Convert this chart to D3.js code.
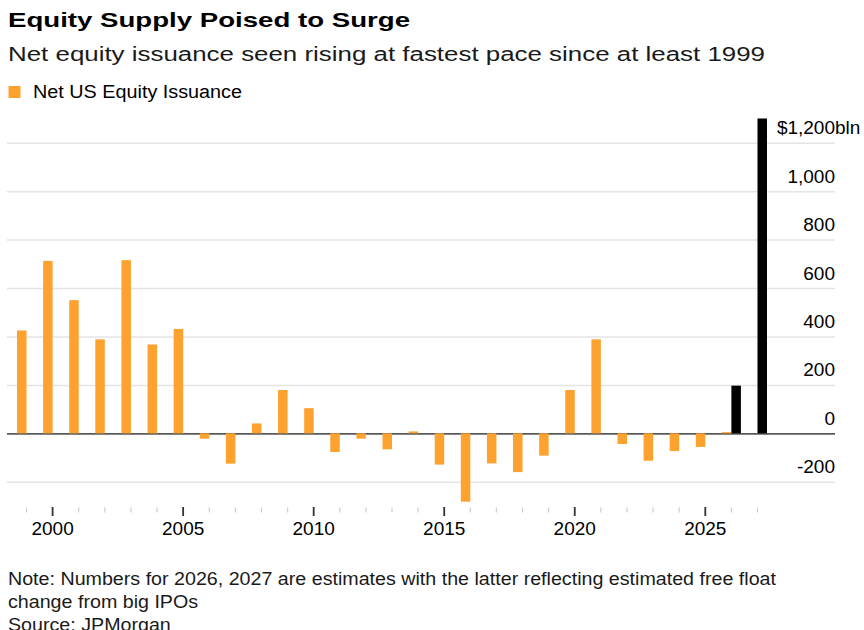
<!DOCTYPE html>
<html>
<head>
<meta charset="utf-8">
<script src="https://cdn.jsdelivr.net/npm/d3@7"></script>
<style>
    body { margin: 0; background: #fff; }
    text { font-family: "Liberation Sans", Arial, Helvetica, sans-serif; fill: #000; }
    .title { font-size: 21px; font-weight: bold; }
    .subtitle { font-size: 20px; fill: #1a1a1a; }
    .legendLabel { font-size: 18px; }
    .tickLabel { font-size: 19px; }
    .note { font-size: 17.5px; fill: #1a1a1a; }
</style>
</head>
<body>
<div id="chart"></div>
<script>

// actual net issuance, $bln (bar for each year ends at the following year's tick)
const actualYears = [1998, 1999, 2000, 2001, 2002, 2003, 2004, 2005, 2006, 2007,
    2008, 2009, 2010, 2011, 2012, 2013, 2014, 2015, 2016, 2017,
    2018, 2019, 2020, 2021, 2022, 2023, 2024, 2025];
const actualValues = [425, 712, 550, 388, 715, 367, 431, -22, -125, 41,
    179, 104, -77, -22, -66, 8, -129, -282, -124, -160,
    -92, 179, 388, -44, -113, -73, -56, 5];

// JPMorgan estimates
const estimateYears = [2026, 2027];
const estimateValues = [197, 1300];

const yTicks = [-200, 0, 200, 400, 600, 800, 1000, 1200];
const xTicks = d3.range(1999, 2028);
const xLabelYears = [2000, 2005, 2010, 2015, 2020, 2025];

const width = 864;
const height = 630;
const margin = {top: 142.7, left: 7, right: 29, bottom: 148};

const svg = d3.select("#chart")
    .append("svg")
    .attr("width", width)
    .attr("height", height);

/*
SCALES
*/
const xScale = d3.scaleLinear()
    .domain([1999, 2027])
    .range([26, 757]);

const yScale = d3.scaleLinear()
    .domain([-200, 1200])
    .range([481.8, 142.7]);

const barWidth = 9.5;

// plain hyphen for negatives, like the reference
const numFormat = d3.formatLocale({decimal: ".", thousands: ",", grouping: [3], currency: ["$", ""], minus: "-"}).format(",");

// the reference type is wider than Liberation Sans, so stretch lines to its widths
function stretch(sel, w) {
    sel.attr("textLength", w).attr("lengthAdjust", "spacingAndGlyphs");
}

/*
HEADER
*/
svg.append("text")
    .attr("class", "title")
    .attr("x", 8)
    .attr("y", 27)
    .text("Equity Supply Poised to Surge")
    .call(stretch, 402);

svg.append("text")
    .attr("class", "subtitle")
    .attr("x", 8)
    .attr("y", 61)
    .text("Net equity issuance seen rising at fastest pace since at least 1999")
    .call(stretch, 757);

svg.append("rect")
    .attr("x", 8.5)
    .attr("y", 86)
    .attr("width", 12)
    .attr("height", 12)
    .attr("fill", "#fda12f");

svg.append("text")
    .attr("class", "legendLabel")
    .attr("x", 33)
    .attr("y", 98)
    .text("Net US Equity Issuance")
    .call(stretch, 209);

/*
GRIDLINES + Y LABELS
*/
const yAxis = svg.append("g")
    .attr("transform", `translate(${width - margin.right},0)`)
    .call(d3.axisLeft(yScale)
        .tickValues(yTicks)
        .tickSize(width - margin.right - margin.left)
        .tickFormat(numFormat));

yAxis.select(".domain").remove();

yAxis.selectAll(".tick line")
    .attr("stroke", function(d) { return d === 0 ? "#5a5a5a" : "#e4e4e4"; })
    .attr("stroke-width", function(d) { return d === 0 ? 1.6 : 1.5; });

yAxis.selectAll(".tick text")
    .attr("class", "tickLabel")
    .attr("x", 0)
    .attr("y", -9)
    .attr("dy", 0)
    .attr("text-anchor", "end")
    .attr("font-size", null)
    .attr("font-family", null)
    .attr("fill", "#000");

// top label carries the unit: "$" hangs left, "bln" hangs right of the number
const topTick = yAxis.selectAll(".tick").filter(function(d) { return d === 1200; });
const topWidth = topTick.select("text").node().getComputedTextLength();
topTick.append("text")
    .attr("class", "tickLabel")
    .attr("x", -topWidth)
    .attr("y", -9)
    .attr("text-anchor", "end")
    .attr("fill", "#000")
    .text("$");
topTick.append("text")
    .attr("class", "tickLabel")
    .attr("x", 0)
    .attr("y", -9)
    .attr("text-anchor", "start")
    .attr("fill", "#000")
    .text("bln");

yAxis.selectAll(".tick").sort(function(a, b) { return a === 0 ? 1 : b === 0 ? -1 : 0; });

/*
BARS
*/
const actualData = actualYears.map(function(y, i) { return {year: y, value: actualValues[i]}; });
const estimateData = estimateYears.map(function(y, i) { return {year: y, value: estimateValues[i]}; });

svg.append("g")
    .selectAll("rect")
    .data(actualData)
    .join("rect")
        .attr("x", function(d) { return xScale(d.year + 1) - barWidth + 0.5; })
        .attr("y", function(d) { return yScale(Math.max(0, d.value)); })
        .attr("width", barWidth)
        .attr("height", function(d) { return Math.abs(yScale(d.value) - yScale(0)); })
        .attr("fill", "#fda12f");

svg.append("g")
    .selectAll("rect")
    .data(estimateData)
    .join("rect")
        .attr("x", function(d) { return xScale(d.year) + 0.5; })
        .attr("y", function(d) { return yScale(Math.max(0, d.value)); })
        .attr("width", barWidth)
        .attr("height", function(d) { return Math.abs(yScale(d.value) - yScale(0)); })
        .attr("fill", "#000");

/*
X AXIS
*/
const xAxis = svg.append("g")
    .attr("transform", `translate(0,507)`)
    .call(d3.axisBottom(xScale)
        .tickValues(xTicks)
        .tickSizeOuter(0)
        .tickFormat(function(d) { return xLabelYears.includes(d) ? d : ""; }));

xAxis.select(".domain").remove();

xAxis.selectAll(".tick line")
    .attr("y1", function(d) { return d % 5 === 0 ? 0 : 0.5; })
    .attr("y2", function(d) { return d % 5 === 0 ? 9 : 5.5; })
    .attr("stroke", function(d) { return d % 5 === 0 ? "#333" : "#cfcfcf"; })
    .attr("stroke-width", function(d) { return d % 5 === 0 ? 1.8 : 1.2; });

xAxis.selectAll(".tick text")
    .attr("class", "tickLabel")
    .attr("y", 28)
    .attr("dy", 0)
    .attr("font-size", null)
    .attr("font-family", null)
    .attr("fill", "#000");

/*
FOOTNOTE
*/
const noteLines = [
    "Note: Numbers for 2026, 2027 are estimates with the latter reflecting estimated free float",
    "change from big IPOs",
    "Source: JPMorgan"
];

const notes = svg.append("g")
    .selectAll("text")
    .data(noteLines)
    .join("text")
        .attr("class", "note")
        .attr("x", 8)
        .attr("y", function(d, i) { return 585 + i * 23; })
        .text(function(d) { return d; });

const noteScale = 768 / notes.node().getComputedTextLength();
notes.each(function() {
    d3.select(this).call(stretch, this.getComputedTextLength() * noteScale);
});

</script>
</body>
</html>
